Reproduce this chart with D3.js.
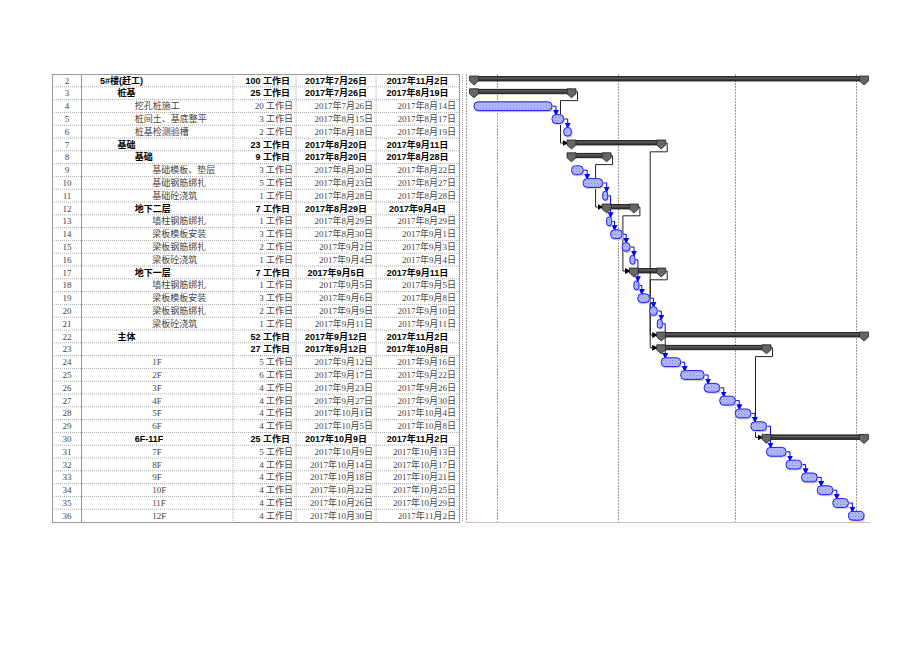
<!DOCTYPE html>
<html>
<head>
<meta charset="utf-8">
<script src="https://cdn.jsdelivr.net/npm/d3@7"></script>
<style>
  body { margin: 0; background: #fff; }
</style>
</head>
<body>
<div class="chart"></div>
<script>
// task table data (rows 2..36)
const ids = d3.range(2, 37);
const names = ["5#楼(赶工)", "桩基", "挖孔桩施工", "桩间土、基底整平", "桩基检测验槽",
  "基础", "基础", "基础模板、垫层", "基础钢筋绑扎", "基础砼浇筑",
  "地下二层", "墙柱钢筋绑扎", "梁板模板安装", "梁板钢筋绑扎", "梁板砼浇筑",
  "地下一层", "墙柱钢筋绑扎", "梁板模板安装", "梁板钢筋绑扎", "梁板砼浇筑",
  "主体", "", "1F", "2F", "3F", "4F", "5F", "6F",
  "6F-11F", "7F", "8F", "9F", "10F", "11F", "12F"];
const levels = [1, 2, 3, 3, 3, 2, 3, 4, 4, 4, 3, 4, 4, 4, 4, 3, 4, 4, 4, 4,
  2, 3, 4, 4, 4, 4, 4, 4, 3, 4, 4, 4, 4, 4, 4];
const summaryIds = [2, 3, 7, 8, 12, 17, 22, 23, 30];
const durations = [100, 25, 20, 3, 2, 23, 9, 3, 5, 1, 7, 1, 3, 2, 1, 7, 1, 3, 2, 1,
  52, 27, 5, 6, 4, 4, 4, 4, 25, 5, 4, 4, 4, 4, 4];
const starts = ["07-26", "07-26", "07-26", "08-15", "08-18", "08-20", "08-20", "08-20", "08-23", "08-28",
  "08-29", "08-29", "08-30", "09-02", "09-04", "09-05", "09-05", "09-06", "09-09", "09-11",
  "09-12", "09-12", "09-12", "09-17", "09-23", "09-27", "10-01", "10-05",
  "10-09", "10-09", "10-14", "10-18", "10-22", "10-26", "10-30"];
const finishes = ["11-02", "08-19", "08-14", "08-17", "08-19", "09-11", "08-28", "08-22", "08-27", "08-28",
  "09-04", "08-29", "09-01", "09-03", "09-04", "09-11", "09-05", "09-08", "09-10", "09-11",
  "11-02", "10-08", "09-16", "09-22", "09-26", "09-30", "10-04", "10-08",
  "11-02", "10-13", "10-17", "10-21", "10-25", "10-29", "11-02"];
// finish-to-start links
const taskLinks = [[4, 5], [5, 6], [9, 10], [10, 11], [11, 13], [13, 14], [14, 15], [15, 16],
  [16, 18], [18, 19], [19, 20], [20, 21], [21, 24], [24, 25], [25, 26], [26, 27], [27, 28],
  [28, 29], [29, 31], [31, 32], [32, 33], [33, 34], [34, 35], [35, 36]];
const summaryLinks = [[3, 7], [7, 22], [8, 12], [12, 17], [17, 23], [23, 30]];

const parse = d3.timeParse("%Y-%m-%d");
const fmt = d3.timeFormat("%Y年%-m月%-d日");

const rows = ids.map((id, i) => ({
  id: id,
  name: names[i],
  level: levels[i],
  summary: summaryIds.includes(id),
  dur: durations[i],
  start: parse("2017-" + starts[i]),
  finish: parse("2017-" + finishes[i])
}));
const byId = new Map(rows.map((r, i) => [r.id, Object.assign(r, {i: i})]));

const W = 920, H = 651;
const top0 = 74, rowH = 12.8;
const cols = [52, 82, 233, 296, 376, 459];
const bottom = top0 + rows.length * rowH;

const svg = d3.select(".chart").append("svg")
  .attr("width", W).attr("height", H)
  .style("display", "block");

// ---------- table ----------
const table = svg.append("g");
const serif = "'Liberation Serif', 'Noto Sans CJK SC', serif";
const bold = "'Liberation Sans', 'Noto Sans CJK SC', sans-serif";

// row lines
table.selectAll("line.row")
  .data(d3.range(1, rows.length))
  .enter().append("line")
  .attr("x1", cols[1]).attr("x2", cols[5])
  .attr("y1", d => top0 + d * rowH).attr("y2", d => top0 + d * rowH)
  .attr("stroke", "#aaa").attr("stroke-dasharray", "1,1");
table.selectAll("line.rowid")
  .data(d3.range(1, rows.length))
  .enter().append("line")
  .attr("x1", cols[0]).attr("x2", cols[1])
  .attr("y1", d => top0 + d * rowH).attr("y2", d => top0 + d * rowH)
  .attr("stroke", "#aaa").attr("stroke-dasharray", "1,1");
// column lines
table.selectAll("line.col")
  .data(cols.slice(2, 5))
  .enter().append("line")
  .attr("x1", d => d).attr("x2", d => d)
  .attr("y1", top0).attr("y2", bottom)
  .attr("stroke", "#aaa").attr("stroke-dasharray", "1,1");
table.append("line")
  .attr("x1", cols[1] - 0.5).attr("x2", cols[1] - 0.5)
  .attr("y1", top0).attr("y2", bottom)
  .attr("stroke", "#999");
table.append("rect")
  .attr("x", cols[0] + 0.5).attr("y", top0 + 0.5)
  .attr("width", cols[5] - cols[0]).attr("height", bottom - top0)
  .attr("fill", "none").attr("stroke", "#999");
// divider between table and chart
svg.append("line")
  .attr("x1", 462.5).attr("x2", 462.5).attr("y1", top0).attr("y2", bottom)
  .attr("stroke", "#999").attr("stroke-dasharray", "1,1");

const rowG = table.selectAll("g.r")
  .data(rows)
  .enter().append("g")
  .attr("transform", (d, i) => `translate(0,${top0 + i * rowH + 9.6})`)
  .style("font-size", "9px");

rowG.append("text")
  .attr("x", (cols[0] + cols[1]) / 2)
  .attr("text-anchor", "middle")
  .attr("font-family", serif)
  .attr("fill", "#444")
  .text(d => d.id);

rowG.append("text")
  .attr("x", d => 100 + (d.level - 1) * 17.4)
  .attr("font-family", d => d.summary ? bold : serif)
  .attr("font-weight", d => d.summary ? "bold" : "normal")
  .attr("fill", d => d.summary ? "#000" : "#444")
  .text(d => d.name);

rowG.append("text")
  .attr("x", d => d.summary ? 290 : 293)
  .attr("text-anchor", "end")
  .attr("font-family", d => d.summary ? bold : serif)
  .attr("font-weight", d => d.summary ? "bold" : "normal")
  .attr("fill", d => d.summary ? "#000" : "#444")
  .text(d => d.dur + " 工作日");

rowG.append("text")
  .attr("x", d => d.summary ? (cols[3] + cols[4]) / 2 : cols[4] - 3)
  .attr("text-anchor", d => d.summary ? "middle" : "end")
  .attr("font-family", d => d.summary ? bold : serif)
  .attr("font-weight", d => d.summary ? "bold" : "normal")
  .attr("fill", d => d.summary ? "#000" : "#444")
  .text(d => fmt(d.start));

rowG.append("text")
  .attr("x", d => d.summary ? (cols[4] + cols[5]) / 2 : cols[5] - 3)
  .attr("text-anchor", d => d.summary ? "middle" : "end")
  .attr("font-family", d => d.summary ? bold : serif)
  .attr("font-weight", d => d.summary ? "bold" : "normal")
  .attr("fill", d => d.summary ? "#000" : "#444")
  .text(d => fmt(d.finish));

// ---------- gantt ----------
const x = d3.scaleTime()
  .domain([new Date(2017, 6, 26), new Date(2017, 10, 3)])
  .range([474, 864]);
const endX = d => x(d3.timeDay.offset(d.finish, 1));
const rowTop = d => top0 + d.i * rowH;

const defs = svg.append("defs");
const pat = defs.append("pattern")
  .attr("id", "hatch").attr("width", 3).attr("height", 3)
  .attr("patternUnits", "userSpaceOnUse");
pat.append("rect").attr("width", 3).attr("height", 3).attr("fill", "#b4baf6");
pat.append("rect").attr("width", 1).attr("height", 1).attr("fill", "#7f88ea");
pat.append("rect").attr("x", 1.5).attr("y", 1.5).attr("width", 1).attr("height", 1).attr("fill", "#959df0");

["blue", "black"].forEach(c => {
  defs.append("marker")
    .attr("id", "arr-" + c)
    .attr("viewBox", "0 0 6 6").attr("refX", 5).attr("refY", 3)
    .attr("markerWidth", 6).attr("markerHeight", 6)
    .attr("markerUnits", "userSpaceOnUse")
    .attr("orient", "auto")
    .append("path").attr("d", "M0,0L6,3L0,6Z")
    .attr("fill", c === "blue" ? "#0000ff" : "#000");
});

const gantt = svg.append("g");

// month grid lines
const gridDates = d3.timeMonth.range(new Date(2017, 7, 1), new Date(2017, 10, 2));
gantt.selectAll("line.grid")
  .data(gridDates)
  .enter().append("line")
  .attr("x1", d => Math.round(x(d)) + 0.5).attr("x2", d => Math.round(x(d)) + 0.5)
  .attr("y1", top0).attr("y2", bottom)
  .attr("stroke", "#999").attr("stroke-dasharray", "2,1");
gantt.append("line")
  .attr("x1", 466.5).attr("x2", 466.5).attr("y1", top0).attr("y2", bottom)
  .attr("stroke", "#999").attr("stroke-dasharray", "2,1");
gantt.append("line")
  .attr("x1", 466).attr("x2", 870).attr("y1", bottom + 0.5).attr("y2", bottom + 0.5)
  .attr("stroke", "#e2b8b8");

// summary links (black)
gantt.selectAll("path.slink")
  .data(summaryLinks)
  .enter().append("path")
  .attr("fill", "none").attr("stroke", "#222").attr("stroke-width", 1)
  .attr("marker-end", "url(#arr-black)")
  .attr("d", ([a, b]) => {
    const p = byId.get(a), s = byId.get(b);
    const x0 = endX(p) + 6, y0 = rowTop(p) + 5;
    const xs = x(s.start);
    const yt = rowTop(s) + 5;
    return `M${endX(p) + 4},${y0}H${x0}V${rowTop(p) + rowH + 1}H${xs - 11}V${yt}H${xs - 4}`;
  });

// task links (blue)
gantt.selectAll("path.tlink")
  .data(taskLinks)
  .enter().append("path")
  .attr("fill", "none").attr("stroke", "#0000ff").attr("stroke-width", 1)
  .attr("marker-end", "url(#arr-blue)")
  .attr("d", ([a, b]) => {
    const p = byId.get(a), s = byId.get(b);
    const x0 = endX(p) + 4;
    return `M${endX(p)},${rowTop(p) + 6.6}H${x0}V${rowTop(s) + 2.5}`;
  });

// summary bars
const sums = rows.filter(d => d.summary);
const sg = gantt.selectAll("g.sum")
  .data(sums)
  .enter().append("g");
sg.append("rect")
  .attr("x", d => x(d.start)).attr("y", d => rowTop(d) + 2.5)
  .attr("width", d => endX(d) - x(d.start)).attr("height", 4.5)
  .attr("fill", "#3a3a3a").attr("stroke", "#111").attr("stroke-width", 0.8);
sg.append("line")
  .attr("x1", d => x(d.start)).attr("x2", d => endX(d))
  .attr("y1", d => rowTop(d) + 4.2).attr("y2", d => rowTop(d) + 4.2)
  .attr("stroke", "#7a7a7a").attr("stroke-width", 0.8);
const cap = (cx, y0) => `M${cx - 4.5},${y0}H${cx + 4.5}V${y0 + 5}L${cx},${y0 + 9}L${cx - 4.5},${y0 + 5}Z`;
sg.append("path")
  .attr("d", d => cap(x(d.start), rowTop(d) + 2))
  .attr("fill", "#666").attr("stroke", "#222").attr("stroke-width", 0.8);
sg.append("path")
  .attr("d", d => cap(endX(d), rowTop(d) + 2))
  .attr("fill", "#666").attr("stroke", "#222").attr("stroke-width", 0.8);

// task bars
const tasks = rows.filter(d => !d.summary);
gantt.selectAll("rect.shadow")
  .data(tasks)
  .enter().append("rect")
  .attr("x", d => x(d.start) + 1).attr("y", d => rowTop(d) + 3.8)
  .attr("width", d => Math.max(endX(d) - x(d.start), 5)).attr("height", 8.8)
  .attr("rx", 3.5)
  .attr("fill", "#cfcfd8");
gantt.selectAll("rect.task")
  .data(tasks)
  .enter().append("rect")
  .attr("x", d => x(d.start)).attr("y", d => rowTop(d) + 2.2)
  .attr("width", d => Math.max(endX(d) - x(d.start), 5)).attr("height", 8.8)
  .attr("rx", d => Math.min(4, Math.max(endX(d) - x(d.start), 5) / 2))
  .attr("fill", "url(#hatch)").attr("stroke", "#1a1aff").attr("stroke-width", 1);
</script>
</body>
</html>
